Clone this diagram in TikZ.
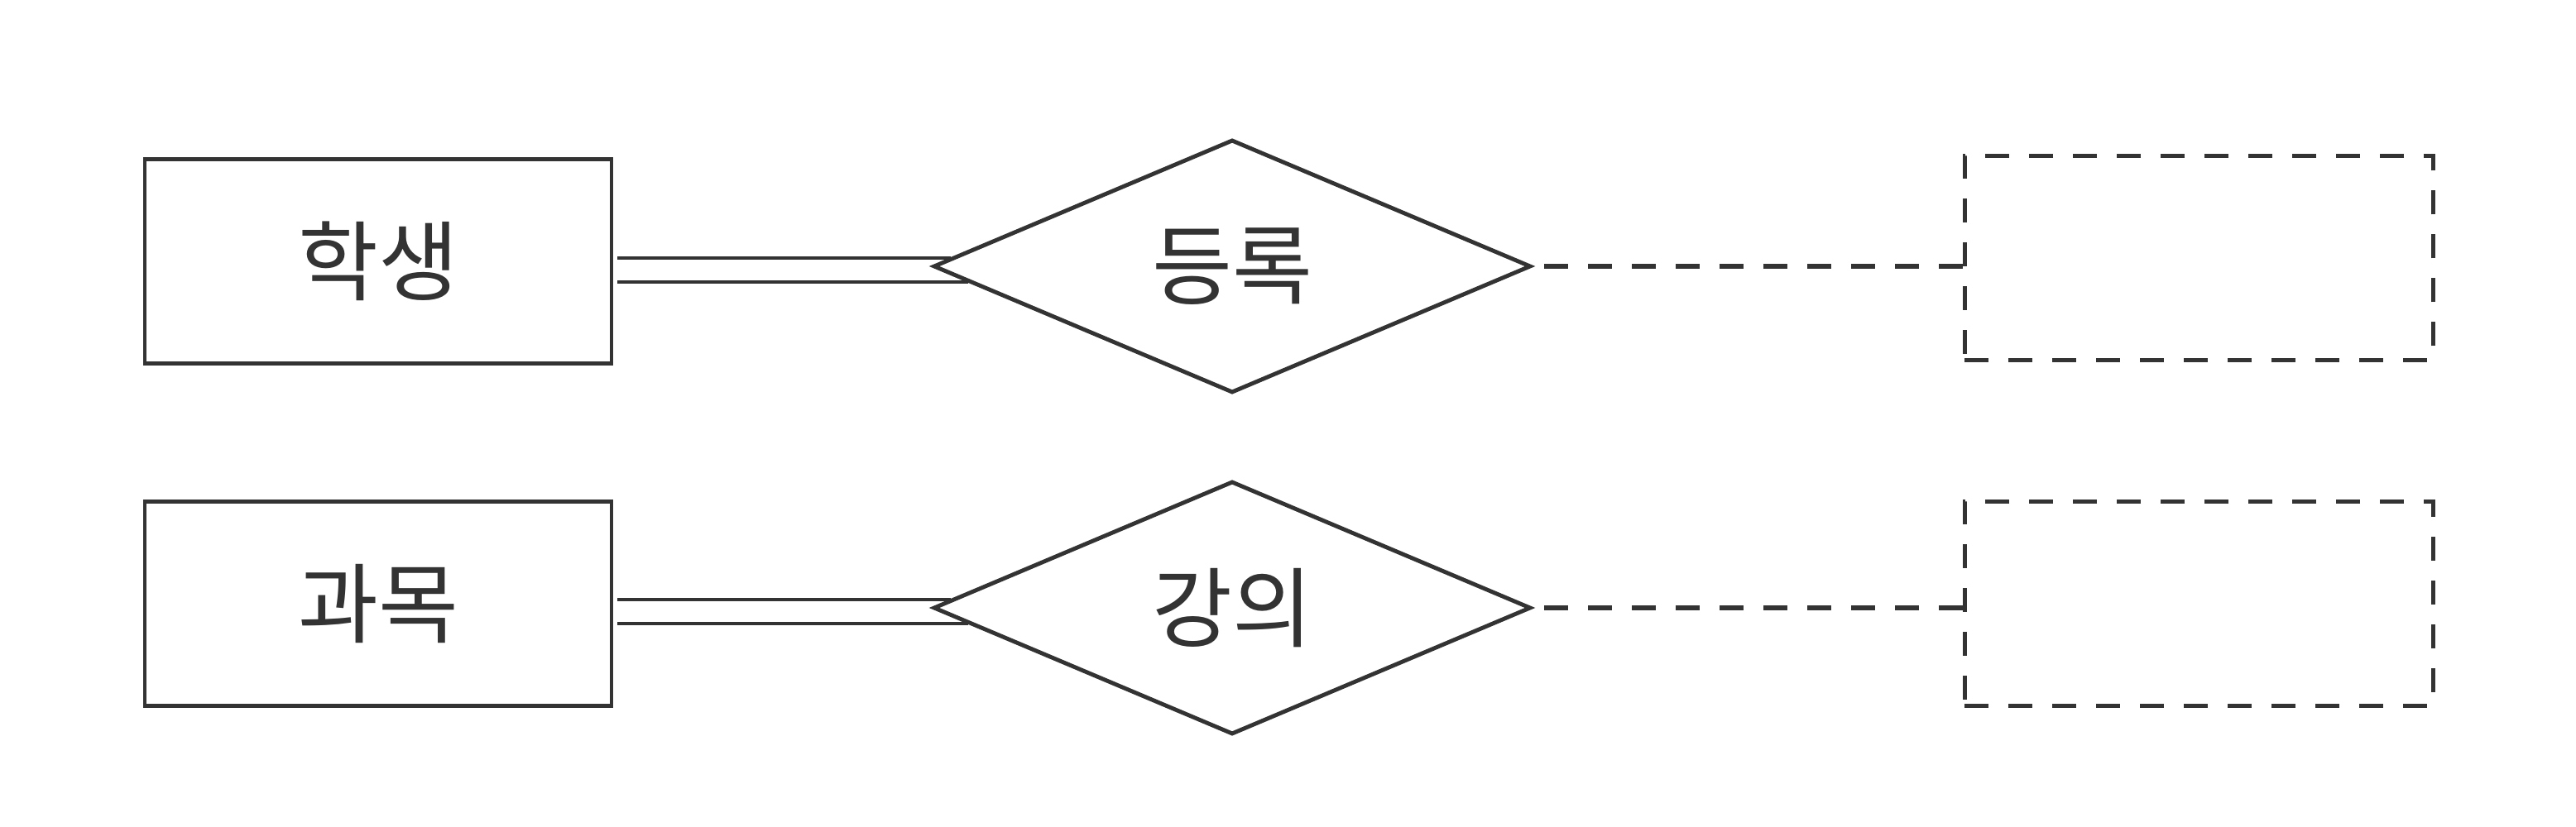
\documentclass[tikz,border=0pt]{standalone}
\usepackage{fontspec}
\newfontfamily\kr{Noto Sans CJK KR}
\usetikzlibrary{shapes.geometric,calc}
\definecolor{ink}{HTML}{333333}
\tikzset{
  lbl/.style={font=\kr\fontsize{30}{32}\selectfont, text=ink},
  entity/.style={draw=ink, line width=1.4pt, rectangle, minimum width=5.64cm, minimum height=2.47cm, inner sep=0pt, lbl},
  rel/.style={draw=ink, line width=1.4pt, diamond, minimum width=7.22cm, minimum height=3.06cm, inner sep=0pt, lbl},
  ghost/.style={draw=ink, line width=1.4pt, dash pattern=on 0.29cm off 0.24cm, rectangle, minimum width=5.66cm, minimum height=2.47cm, inner sep=0pt},
  conn/.style={draw=ink, line width=1.4pt},
  dconn/.style={draw=ink, line width=1.5pt, dash pattern=on 0.29cm off 0.24cm}
}
\begin{document}
\begin{tikzpicture}
\useasboundingbox (0,0) rectangle (31.13,-10);
\node[entity] (b1) at (4.57,-3.16) {학생};
\node[rel] (d1) at (14.89,-3.22) {등록};
\node[ghost] (e1) at (26.57,-3.12) {};
\node[entity] (b2) at (4.57,-7.30) {과목};
\node[rel] (d2) at (14.89,-7.35) {강의};
\node[ghost] (e2) at (26.57,-7.30) {};
% double connectors
\draw[conn] ($(b1.east |- d1.center)+(0.05,0.10)$) -- ($(d1.west)+(0.235,0.10)$);
\draw[conn] ($(b1.east |- d1.center)+(0.05,-0.19)$) -- ($(d1.west)+(0.447,-0.19)$);
\draw[conn] ($(b2.east |- d2.center)+(0.05,0.10)$) -- ($(d2.west)+(0.235,0.10)$);
\draw[conn] ($(b2.east |- d2.center)+(0.05,-0.19)$) -- ($(d2.west)+(0.447,-0.19)$);
% dashed connectors
\draw[dconn] (d1.east -| e1.west) -- (d1.east);
\draw[dconn] (d2.east -| e2.west) -- (d2.east);
\end{tikzpicture}
\end{document}
